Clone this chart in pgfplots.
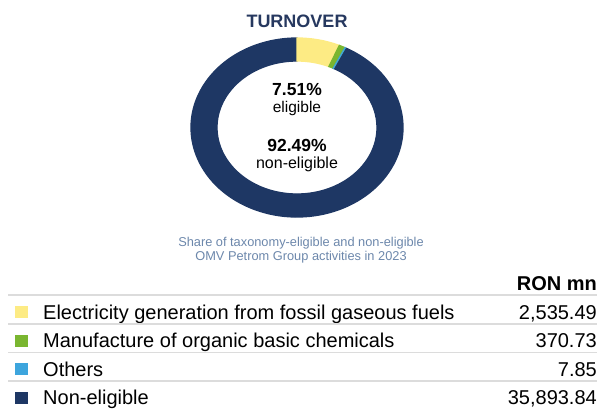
\documentclass[border=0pt]{standalone}
\usepackage{fontspec}
\setmainfont{Liberation Sans}
\usepackage{pgfplots}
\usepackage{pgfplotstable}
\pgfplotsset{compat=1.18}
\usetikzlibrary{calc}

\definecolor{cNavy}{HTML}{1E3764}
\definecolor{cYellow}{HTML}{FDEB84}
\definecolor{cGreen}{HTML}{7AB630}
\definecolor{cBlue}{HTML}{3DA5DD}
\definecolor{cTitle}{HTML}{26385F}
\definecolor{cCaption}{HTML}{6C87AB}
\definecolor{cLine}{HTML}{DCDCDC}

\pgfplotstableread[col sep=comma]{
label,value,color
Electricity generation from fossil gaseous fuels,2535.49,cYellow
Manufacture of organic basic chemicals,370.73,cGreen
Others,7.85,cBlue
Non-eligible,35893.84,cNavy
}\turnover

% cumulative sums
\def\total{0}
\expandafter\def\csname cum-1\endcsname{0}
\pgfplotsforeachungrouped \i in {0,1,2,3}{%
  \pgfplotstablegetelem{\i}{value}\of\turnover
  \edef\total{\fpeval{\total+\pgfplotsretval}}%
  \expandafter\edef\csname cum\i\endcsname{\total}%
}

\newcommand\legfont{\fontsize{20}{24}\selectfont}

\begin{document}
\begin{tikzpicture}
\begin{axis}[
  scale only axis, width=601pt, height=408pt,
  xmin=0, xmax=601, ymin=0, ymax=408, y dir=reverse,
  axis lines=none, clip=false]

% donut slices (large first, smallest last so it stays visible)
\pgfplotsforeachungrouped \i in {3,0,1,2}{%
  \pgfplotstablegetelem{\i}{color}\of\turnover
  \let\slicecol=\pgfplotsretval
  \edef\j{\the\numexpr\i-1\relax}%
  \edef\aa{\fpeval{round(90-360*\csname cum\j\endcsname/\total,4)}}%
  \edef\ab{\fpeval{round(90-360*\csname cum\i\endcsname/\total,4)}}%
  \edef\slice{\noexpand\filldraw[fill=\slicecol,draw=\slicecol,line width=1.3pt]
    ($(axis cs:297,127.5)+(\aa:106pt and 89.5pt)$)
    arc[start angle=\aa,end angle=\ab,x radius=106pt,y radius=89.5pt]
    -- ($(axis cs:297,127.5)+(\ab:80pt and 66.5pt)$)
    arc[start angle=\ab,end angle=\aa,x radius=80pt,y radius=66.5pt] -- cycle;}%
  \slice
}

% titles and centre labels
\node[anchor=base, inner sep=0, text=cTitle, font=\fontsize{18}{20}\selectfont\bfseries] at (axis cs:297,27.5) {TURNOVER};
\node[anchor=base, inner sep=0, font=\fontsize{17.5}{20}\selectfont\bfseries] at (axis cs:297,95) {7.51\%};
\node[anchor=base, inner sep=0, font=\fontsize{15.5}{18}\selectfont] at (axis cs:297,112) {eligible};
\node[anchor=base, inner sep=0, font=\fontsize{17.5}{20}\selectfont\bfseries] at (axis cs:297,151) {92.49\%};
\node[anchor=base, inner sep=0, font=\fontsize{16}{18}\selectfont] at (axis cs:297,168.5) {non-eligible};

\node[anchor=base, inner sep=0, text=cCaption, font=\fontsize{12.8}{14}\selectfont] at (axis cs:301,246.5) {Share of taxonomy-eligible and non-eligible};
\node[anchor=base, inner sep=0, text=cCaption, font=\fontsize{12.8}{14}\selectfont] at (axis cs:301,260) {OMV Petrom Group activities in 2023};

\node[anchor=base east, inner sep=0, font=\legfont\bfseries] at (axis cs:597,290) {RON mn};

% table legend
\pgfplotsforeachungrouped \i in {0,1,2,3}{%
  \pgfplotstablegetelem{\i}{color}\of\turnover
  \let\slicecol=\pgfplotsretval
  \pgfplotstablegetelem{\i}{label}\of\turnover
  \let\rowlabel=\pgfplotsretval
  \pgfplotstablegetelem{\i}{value}\of\turnover
  \let\rowvalue=\pgfplotsretval
  \edef\yc{\fpeval{312+28.5*\i}}%
  \edef\yl{\fpeval{295+28.7*\i}}%
  \edef\yb{\fpeval{\yc+7.3}}%
  \edef\ys{\fpeval{\yc-6}}%
  \edef\yt{\fpeval{\yc+6}}%
  \edef\legrow{%
    \noexpand\draw[cLine, line width=1.6pt] (axis cs:8,\yl) -- (axis cs:597,\yl);
    \noexpand\fill[\slicecol] (axis cs:15,\ys) rectangle (axis cs:28,\yt);
    \noexpand\node[anchor=base west, inner sep=0, font=\noexpand\legfont] at (axis cs:43,\yb) {\rowlabel};
    \noexpand\node[anchor=base east, inner sep=0, font=\noexpand\legfont] at (axis cs:597,\yb)
      {\noexpand\pgfmathprintnumber[fixed, fixed zerofill, precision=2, 1000 sep={,}, assume math mode=true]{\rowvalue}};
  }%
  \legrow
}

\coordinate (BBsw) at (axis cs:0,408);
\coordinate (BBne) at (axis cs:601,0);
\end{axis}
\pgfresetboundingbox
\useasboundingbox (BBsw) rectangle (BBne);
\end{tikzpicture}
\end{document}
